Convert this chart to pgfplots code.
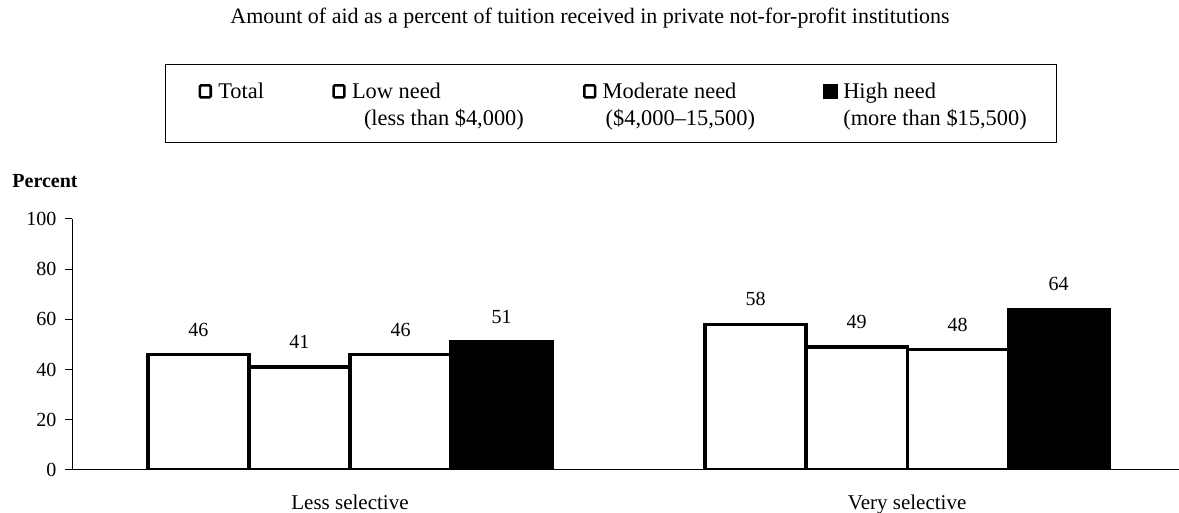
\documentclass[border=0pt]{standalone}
\usepackage{fontspec}
\setmainfont{Liberation Serif}
\usepackage{pgfplots}
\pgfplotsset{compat=1.18}
\begin{document}
\begin{tikzpicture}
\useasboundingbox (0,0) rectangle (589.5pt,256.5pt);
\node[anchor=base, font=\fontsize{11}{13}\selectfont] at (295pt,244.5pt)
  {Amount of aid as a percent of tuition received in private not-for-profit institutions};
\node[anchor=base west, inner sep=0pt, font=\fontsize{10}{12}\selectfont\bfseries] at (6pt,162.5pt) {Percent};
\begin{axis}[
  at={(36pt,21.5pt)}, anchor=south west,
  scale only axis, width=553.5pt, height=125.5pt,
  xmin=-0.499, xmax=1.488, ymin=0, ymax=100,
  enlargelimits=false,
  axis lines*=left,
  axis line style={line width=0.5pt, black},
  ybar,
  bar width=0.1813,
  ytick={0,20,40,60,80,100},
  xtick={0,1},
  xticklabels={Less selective, Very selective},
  xtick style={draw=none},
  ytick style={line width=0.5pt, black},
  tick align=outside,
  major tick length=3.3pt,
  /pgf/number format/assume math mode=true,
  yticklabel style={font=\fontsize{10}{12}\selectfont, xshift=-1pt},
  xticklabel style={font=\fontsize{10.5}{12}\selectfont, yshift=-5.5pt},
  nodes near coords,
  every node near coord/.append style={font=\fontsize{10}{12}\selectfont, text=black, yshift=5pt},
  legend style={
    at={(0.08401,1.6175)}, anchor=north west,
    draw=black, line width=0.6pt,
    inner xsep=16.5pt, inner ysep=6pt,
    column sep=0pt,
    nodes={inner sep=0pt, anchor=base west, text depth={}},
    font=\fontsize{11.2}{13.5}\selectfont,
  },
  legend columns=4,
]
\addplot[draw=black, fill=white, line width=1.6pt, bar shift=-0.272,
  legend image code/.code={\draw[black, line width=1.3pt, rounded corners=0.6pt, fill=white] (0.6pt,0.6pt) rectangle (6pt,6.6pt); \path (9pt,0pt);}]
  coordinates {(0,46) (1,58)};
\addlegendentry[text height=11pt]{\parbox[t]{57pt}{Total}}
\addplot[draw=black, fill=white, line width=1.6pt, bar shift=-0.0907,
  legend image code/.code={\draw[black, line width=1.3pt, rounded corners=0.6pt, fill=white] (0.6pt,0.6pt) rectangle (6pt,6.6pt); \path (9pt,0pt);}]
  coordinates {(0,41) (1,49)};
\addlegendentry[text height=11pt]{\parbox[t]{115.5pt}{Low need\\\hspace*{6pt}(less than \$4,000)}}
\addplot[draw=black, fill=white, line width=1.6pt, bar shift=0.0907,
  legend image code/.code={\draw[black, line width=1.3pt, rounded corners=0.6pt, fill=white] (0.6pt,0.6pt) rectangle (6pt,6.6pt); \path (9pt,0pt);}]
  coordinates {(0,46) (1,48)};
\addlegendentry[text height=11pt]{\parbox[t]{110pt}{Moderate need\\\hspace*{1.5pt}(\$4,000--15,500)}}
\addplot[draw=black, fill=black, line width=1.6pt, bar shift=0.272,
  legend image code/.code={\draw[black, line width=0.6pt, fill=black] (0.3pt,0.3pt) rectangle (7.5pt,7pt); \path (9.5pt,0pt);}]
  coordinates {(0,51) (1,64)};
\addlegendentry[text height=11pt]{\parbox[t]{90pt}{High need\\\mbox{(more than \$15,500)}}}
\end{axis}
\end{tikzpicture}
\end{document}
